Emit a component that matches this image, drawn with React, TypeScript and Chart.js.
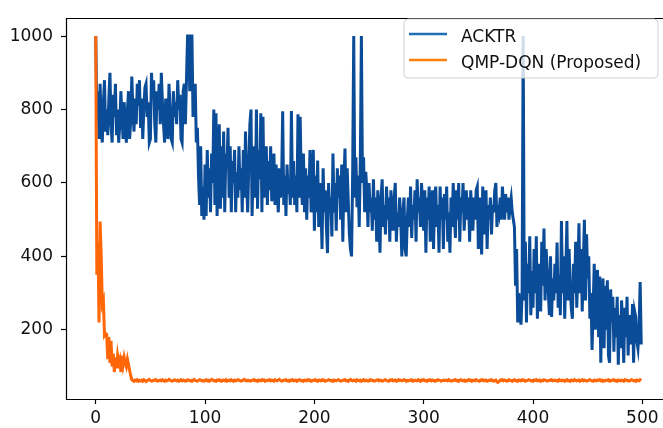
import React, { useEffect, useRef } from "react";
import { Chart, registerables } from "chart.js";

Chart.register(...registerables);

const seriesNames = ["ACKTR", "QMP-DQN (Proposed)"];

const xTicks = [0, 100, 200, 300, 400, 500];
const yTicks = [200, 400, 600, 800, 1000];

const acktr = [
  1000, 780, 850, 720, 870, 760, 710, 820, 880, 740, 800, 730, 830, 900, 760, 710, 840, 780, 870, 730,
  800, 710, 760, 850, 780, 720, 820, 760, 710, 800, 850, 720, 770, 890, 800, 740, 830, 760, 870, 810,
  880, 750, 830, 720, 800, 860, 870, 780, 820, 710, 720, 900, 830, 880, 760, 710, 850, 800, 870, 760,
  900, 820, 760, 710, 830, 780, 720, 870, 800, 720, 710, 850, 780, 820, 760, 880, 800, 840, 720, 710,
  850, 870, 760, 880, 1000, 1000, 850, 1000, 1000, 780, 820, 870, 710, 750, 620, 540, 700, 510, 590, 500,
  650, 510, 690, 560, 640, 520, 680, 600, 800, 540, 790, 510, 620, 760, 530, 700, 560, 740, 520, 680,
  640, 750, 560, 700, 520, 660, 600, 690, 520, 630, 560, 700, 580, 640, 520, 690, 560, 740, 600, 520,
  650, 760, 800, 510, 640, 700, 560, 800, 530, 690, 610, 790, 520, 780, 560, 620, 700, 540, 660, 580,
  700, 550, 620, 680, 540, 650, 580, 520, 640, 560, 600, 795, 540, 620, 510, 650, 570, 600, 540, 796,
  560, 660, 540, 620, 520, 787, 560, 780, 600, 540, 680, 520, 640, 500, 620, 560, 690, 520, 600, 690,
  470, 620, 520, 661, 480, 600, 540, 420, 640, 520, 580, 480, 409, 600, 520, 560, 454, 680, 520, 600,
  470, 640, 560, 620, 500, 650, 440, 600, 694, 520, 640, 550, 460, 420, 400, 620, 1000, 560, 670, 534,
  620, 480, 650, 1000, 600, 670, 520, 630, 580, 480, 600, 520, 560, 470, 610, 500, 560, 440, 580, 520,
  410, 560, 610, 480, 540, 460, 590, 500, 560, 440, 580, 520, 470, 560, 600, 440, 520, 480, 560, 500,
  400, 520, 560, 420, 400, 500, 560, 480, 590, 450, 540, 500, 580, 440, 610, 520, 560, 480, 600, 540,
  470, 580, 410, 560, 500, 590, 440, 520, 580, 420, 560, 590, 480, 540, 410, 590, 500, 560, 420, 570,
  500, 590, 440, 520, 410, 560, 480, 600, 520, 450, 580, 500, 600, 440, 560, 520, 600, 470, 540, 580,
  500, 560, 440, 580, 520, 470, 560, 500, 580, 590, 420, 560, 500, 405, 590, 520, 460, 580, 420, 540,
  500, 560, 460, 540, 520, 580, 600, 480, 540, 520, 560, 500, 590, 540, 500, 570, 520, 560, 500, 540,
  560, 520, 500, 480, 320, 420, 220, 300, 240, 214, 300, 1000, 280, 440, 220, 380, 300, 455, 240, 360,
  260, 420, 300, 455, 230, 380, 300, 250, 440, 320, 476, 280, 420, 360, 300, 240, 400, 235, 340, 280,
  380, 300, 438, 260, 350, 240, 496, 300, 400, 230, 360, 496, 280, 420, 320, 260, 230, 380, 300, 440,
  260, 350, 490, 300, 420, 250, 380, 500, 280, 460, 340, 400, 230, 300, 145, 260, 380, 200, 330, 363,
  180, 345, 110, 280, 340, 150, 320, 200, 335, 130, 110, 310, 220, 290, 140, 260, 180, 290, 105, 240,
  150, 280, 210, 110, 260, 180, 290, 130, 240, 200, 160, 270, 110, 250, 235, 170, 150, 200, 330, 160,
];

const qmpDqn = [
  1000, 350, 440, 220, 495, 400, 270, 280, 185, 190, 188, 120, 180, 110, 170, 100, 135, 85, 125, 95,
  130, 110, 120, 85, 130, 105, 125, 110, 100, 120, 105, 90, 75, 64, 62, 60, 63, 61, 64, 60,
  62, 61, 63, 60, 64, 62, 59, 61, 63, 65, 62, 60, 61, 63, 62, 64, 61, 60, 62, 63,
  61, 64, 62, 60, 63, 61, 62, 65, 63, 61, 60, 62, 64, 62, 61, 63, 60, 62, 64, 61,
  63, 62, 60, 61, 64, 63, 61, 62, 60, 63, 65, 62, 61, 60, 62, 64, 63, 61, 62, 60,
  62, 64, 61, 63, 60, 62, 65, 63, 61, 62, 60, 63, 62, 64, 61, 60, 63, 62, 61, 64,
  60, 62, 63, 61, 64, 62, 60, 63, 61, 62, 64, 63, 61, 60, 62, 63, 65, 62, 61, 63,
  62, 60, 61, 63, 62, 64, 61, 62, 60, 63, 62, 61, 64, 62, 63, 60, 61, 63, 62, 64,
  61, 63, 62, 60, 64, 62, 61, 63, 65, 62, 60, 61, 63, 62, 64, 61, 62, 60, 63, 62,
  64, 61, 62, 63, 60, 62, 64, 63, 61, 62, 60, 63, 62, 61, 64, 62, 63, 60, 61, 63,
  62, 64, 61, 60, 63, 62, 61, 64, 62, 63, 60, 61, 62, 64, 63, 61, 62, 60, 63, 62,
  61, 63, 64, 62, 60, 61, 63, 62, 64, 61, 62, 60, 63, 65, 62, 61, 63, 62, 60, 64,
  62, 61, 63, 60, 62, 64, 61, 63, 62, 60, 61, 64, 62, 63, 61, 60, 62, 63, 64, 61,
  63, 62, 60, 61, 63, 64, 62, 61, 60, 63, 62, 64, 61, 62, 63, 60, 61, 64, 62, 63,
  61, 62, 64, 63, 60, 62, 61, 63, 62, 64, 60, 61, 63, 62, 61, 64, 62, 60, 63, 62,
  64, 61, 62, 60, 63, 62, 64, 61, 63, 62, 60, 62, 61, 64, 63, 62, 60, 61, 63, 62,
  62, 63, 61, 64, 62, 60, 61, 63, 62, 64, 61, 62, 60, 63, 64, 62, 61, 63, 60, 62,
  61, 64, 62, 63, 60, 62, 63, 61, 64, 62, 61, 60, 63, 62, 64, 61, 62, 63, 60, 61,
  63, 62, 64, 61, 60, 62, 63, 58, 57, 60, 63, 62, 64, 61, 63, 62, 60, 61, 64, 62,
  62, 60, 63, 64, 61, 62, 60, 63, 62, 61, 64, 62, 63, 60, 61, 62, 64, 63, 61, 62,
  60, 63, 62, 64, 61, 62, 63, 60, 62, 61, 64, 63, 62, 60, 61, 63, 62, 64, 61, 62,
  63, 61, 62, 60, 64, 62, 61, 63, 62, 60, 63, 64, 61, 62, 60, 63, 62, 61, 64, 62,
  61, 62, 63, 60, 62, 64, 61, 63, 62, 60, 61, 63, 64, 62, 61, 60, 63, 62, 61, 63,
  62, 64, 61, 63, 60, 62, 61, 63, 62, 64, 60, 61, 63, 62, 64, 61, 62, 60, 63, 62,
  61, 63, 62, 60, 64, 62, 63, 61, 60, 62, 64, 63, 61, 62, 60, 63, 62, 61, 64, 62,
];

const lineColors = ["#0b4c98", "#ff6608"];
const legendColors = ["#1f6fb4", "#ff7f0e"];
const FONT = "'DejaVu Sans', 'Liberation Sans', sans-serif";

const framePlugin = {
  id: "mplFrame",
  afterDraw(chart: any) {
    const { ctx, chartArea } = chart;
    ctx.save();
    ctx.strokeStyle = "#000";
    ctx.lineWidth = 1.2;
    ctx.beginPath();
    ctx.rect(Math.round(chartArea.left) + 0.5, Math.round(chartArea.top) + 0.5,
      Math.round(chartArea.right - chartArea.left) + 4, Math.round(chartArea.bottom - chartArea.top));
    ctx.stroke();

    // legend
    const bx = 404, by = 19, bw = 254, bh = 59, r = 4;
    ctx.beginPath();
    ctx.moveTo(bx + r, by);
    ctx.lineTo(bx + bw - r, by);
    ctx.quadraticCurveTo(bx + bw, by, bx + bw, by + r);
    ctx.lineTo(bx + bw, by + bh - r);
    ctx.quadraticCurveTo(bx + bw, by + bh, bx + bw - r, by + bh);
    ctx.lineTo(bx + r, by + bh);
    ctx.quadraticCurveTo(bx, by + bh, bx, by + bh - r);
    ctx.lineTo(bx, by + r);
    ctx.quadraticCurveTo(bx, by, bx + r, by);
    ctx.closePath();
    ctx.fillStyle = "rgba(255,255,255,0.8)";
    ctx.fill();
    ctx.strokeStyle = "rgba(204,204,204,0.9)";
    ctx.lineWidth = 1;
    ctx.stroke();

    const rows = [34, 60];
    seriesNames.forEach((name, i) => {
      ctx.strokeStyle = legendColors[i];
      ctx.lineWidth = 2.4;
      ctx.beginPath();
      ctx.moveTo(409, rows[i]);
      ctx.lineTo(447, rows[i]);
      ctx.stroke();
      ctx.fillStyle = "#111";
      ctx.font = `17px ${FONT}`;
      ctx.textBaseline = "alphabetic";
      ctx.textAlign = "left";
      ctx.fillText(name, 461, rows[i] + 7.5);
    });
    ctx.restore();
  },
};

export default function App() {
  const ref = useRef<HTMLCanvasElement | null>(null);

  useEffect(() => {
    if (!ref.current) return;
    const toPoints = (arr: number[]) => arr.map((v, i) => ({ x: i, y: v }));
    const chart = new Chart(ref.current, {
      type: "line",
      data: {
        datasets: [
          {
            label: seriesNames[0],
            data: toPoints(acktr),
            borderColor: lineColors[0],
            borderWidth: 3,
            pointRadius: 0,
            tension: 0,
            fill: false,
            order: 1,
          },
          {
            label: seriesNames[1],
            data: toPoints(qmpDqn),
            borderColor: lineColors[1],
            borderWidth: 3,
            pointRadius: 0,
            tension: 0,
            fill: false,
            order: 0,
          },
        ],
      },
      options: {
        responsive: false,
        animation: false,
        devicePixelRatio: 1,
        layout: { padding: { top: 10, right: 0, left: 0, bottom: 0 } },
        plugins: { legend: { display: false }, tooltip: { enabled: false } },
        scales: {
          x: {
            type: "linear",
            min: -27.2,
            max: 518.9,
            afterFit: (s: any) => { s.height = 29; },
            afterBuildTicks: (s: any) => { s.ticks = xTicks.map((v) => ({ value: v })); },
            grid: { drawOnChartArea: false, drawTicks: true, tickLength: 5, tickColor: "#000", tickWidth: 1.2 },
            border: { display: false },
            ticks: {
              autoSkip: false,
              maxRotation: 0,
              padding: 4,
              color: "#111",
              font: { family: FONT, size: 17 },
              callback: (v: any) => String(v),
            },
          },
          y: {
            type: "linear",
            min: 11.5,
            max: 1048.8,
            afterFit: (s: any) => { s.width = 66; },
            afterBuildTicks: (s: any) => { s.ticks = yTicks.map((v) => ({ value: v })); },
            grid: { drawOnChartArea: false, drawTicks: true, tickLength: 5, tickColor: "#000", tickWidth: 1.2 },
            border: { display: false },
            ticks: {
              autoSkip: false,
              padding: 8,
              color: "#111",
              font: { family: FONT, size: 17 },
              callback: (v: any) => String(v),
            },
          },
        },
      },
      plugins: [framePlugin],
    });
    return () => chart.destroy();
  }, []);

  return (
    <div style={{ position: "fixed", left: 0, top: 0, width: 663, height: 428, background: "#fff", overflow: "hidden" }}>
      <canvas ref={ref} width={663} height={428} style={{ display: "block", width: 663, height: 428 }} />
    </div>
  );
}
